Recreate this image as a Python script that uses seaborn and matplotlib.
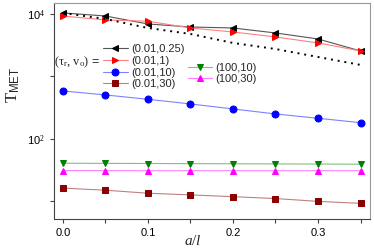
import numpy as np
import pandas as pd
import matplotlib
matplotlib.use("Agg")
import matplotlib.pyplot as plt
import seaborn as sns
from matplotlib.ticker import FixedLocator, NullFormatter, MultipleLocator

# data
a_l = [0.0, 0.05, 0.1, 0.15, 0.2, 0.25, 0.3, 0.35]
t_001_025 = [10400, 9290, 6920, 6190, 5970, 4970, 3980, 2560]
t_001_1 = [9290, 8020, 7660, 5970, 5150, 4290, 3440, 2560]
t_001_10 = [586, 506, 431, 363, 302, 251, 214, 182]
t_001_30 = [16.3, 15.1, 13.5, 12.7, 11.9, 11.1, 10.0, 9.3]
t_100_10 = [40.8, 40.6, 40.4, 40.2, 40.0, 39.8, 39.6, 39.4]
t_100_30 = [31.1, 31.1, 31.0, 31.0, 31.0, 31.0, 31.0, 31.0]
t_dotted = [10400, 8320, 5970, 4790, 3440, 2750, 2050, 1530]

sns.set_style("ticks")
plt.rcParams["font.family"] = ["Liberation Sans", "DejaVu Sans"]
plt.rcParams["mathtext.fontset"] = "custom"
plt.rcParams["mathtext.rm"] = "Liberation Serif"
plt.rcParams["mathtext.it"] = "Liberation Serif:italic"
plt.rcParams["mathtext.sf"] = "Liberation Sans"

fig = plt.figure(figsize=(3.74, 2.49), dpi=100)
ax = fig.add_axes([0.144, 0.12, 0.845, 0.868])

series = [
    (t_001_025, "(0.01,0.25)", "<", "black", "#555555"),
    (t_001_1, "(0.01,1)", ">", "red", "#ff8080"),
    (t_001_10, "(0.01,10)", "o", "blue", "#8080ff"),
    (t_001_30, "(0.01,30)", "s", "#8b0000", "#c08080"),
    (t_100_10, "(100,10)", "v", "green", "#80c080"),
    (t_100_30, "(100,30)", "^", "magenta", "#ff80ff"),
]
handles = []
for vals, lab, mk, mc, lc in series:
    sns.lineplot(x=a_l, y=vals, ax=ax, color=lc, lw=0.8, marker=mk, markersize=5,
                 markerfacecolor=mc, markeredgecolor=mc, label=lab)
    handles.append(ax.lines[-1])

sns.lineplot(x=a_l, y=t_dotted, ax=ax, color="black", lw=1.4, linestyle=(0, (1, 2.5)))

ax.set_yscale("log")
ax.set_xlim(-0.0106, 0.361)
ax.set_ylim(5.2, 15000)
ax.xaxis.set_major_locator(FixedLocator([0.0, 0.1, 0.2, 0.3]))
ax.xaxis.set_minor_locator(MultipleLocator(0.05))
ax.set_xticklabels(["0.0", "0.1", "0.2", "0.3"])
ax.yaxis.set_major_locator(FixedLocator([1e2, 1e4]))
ax.yaxis.set_minor_locator(FixedLocator([1e1, 1e3]))
ax.yaxis.set_minor_formatter(NullFormatter())
ax.set_yticklabels([r"10$^2$", r"10$^4$"])
ax.tick_params(which="both", direction="out", labelsize=8, length=3, width=0.8,
               colors="#444444", labelcolor="black")
ax.tick_params(which="minor", length=3)
for s in ["left", "bottom"]:
    ax.spines[s].set_color("#444444")
for s in ["top", "right"]:
    ax.spines[s].set_color("#999999")
    ax.spines[s].set_linewidth(0.8)

ax.set_ylabel(r"$\mathrm{T}_{\mathsf{MET}}$", fontsize=12)
ax.yaxis.set_label_coords(-0.10, 0.62)
ax.set_xlabel(r"$a/l$", fontsize=11)
ax.xaxis.set_label_coords(0.44, -0.07)

leg1 = ax.legend(handles=handles[:4], loc="upper left", bbox_to_anchor=(0.14, 0.83),
                 frameon=False, fontsize=8, handlelength=2.3, handletextpad=0.3,
                 labelspacing=0.15, borderaxespad=0)
ax.add_artist(leg1)
ax.legend(handles=handles[4:], loc="upper left", bbox_to_anchor=(0.41, 0.745),
          frameon=False, fontsize=8, handlelength=2.2, handletextpad=0.3,
          labelspacing=0.15, borderaxespad=0)
ax.text(0.0, 0.725, r"$(\mathrm{\tau_r},\,\mathrm{v_o})$ =", transform=ax.transAxes,
        fontsize=9, va="center")

fig.savefig("out.png", dpi=100)
